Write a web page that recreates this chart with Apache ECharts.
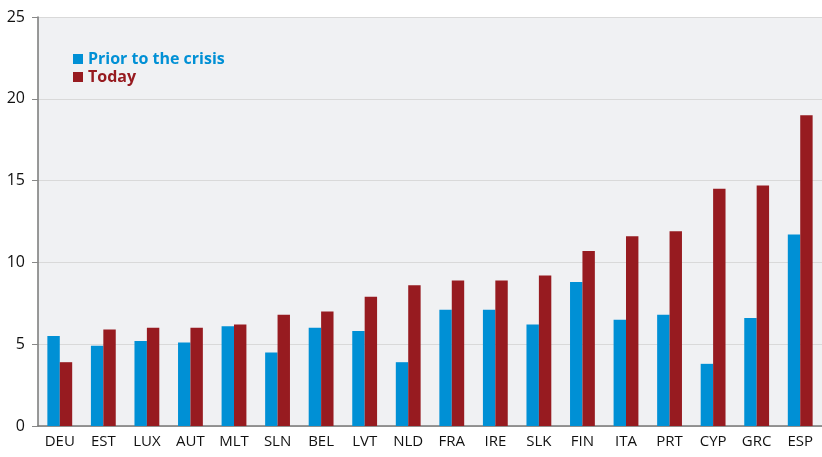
<!DOCTYPE html>
<html>
<head>
<meta charset="utf-8">
<style>
html, body { margin: 0; padding: 0; background: #fff; }
#chart { width: 822px; height: 457px; }
</style>
<script src="https://cdn.jsdelivr.net/npm/echarts@6/dist/echarts.min.js"></script>
</head>
<body>
<div id="chart"></div>
<script>
var countries = ['DEU', 'EST', 'LUX', 'AUT', 'MLT', 'SLN', 'BEL', 'LVT', 'NLD',
    'FRA', 'IRE', 'SLK', 'FIN', 'ITA', 'PRT', 'CYP', 'GRC', 'ESP'];
var priorToCrisis = [5.5, 4.9, 5.2, 5.1, 6.1, 4.5, 6.0, 5.8, 3.9,
    7.1, 7.1, 6.2, 8.8, 6.5, 6.8, 3.8, 6.6, 11.7];
var today = [3.9, 5.9, 6.0, 6.0, 6.2, 6.8, 7.0, 7.9, 8.6,
    8.9, 8.9, 9.2, 10.7, 11.6, 11.9, 14.5, 14.7, 19.0];

var blue = '#0090d5';
var red = '#971b20';
var font = '"Open Sans", Lato, sans-serif';

var chart = echarts.init(document.getElementById('chart'));
chart.setOption({
    animation: false,
    textStyle: { fontFamily: font },
    grid: {
        left: 38,
        top: 17,
        width: 792,
        height: 409,
        show: true,
        backgroundColor: '#f0f1f3',
        borderWidth: 0
    },
    legend: {
        orient: 'vertical',
        left: 68,
        top: 46,
        itemWidth: 10,
        itemHeight: 10,
        itemGap: 2,
        icon: 'rect',
        data: [
            { name: 'Prior to the crisis', textStyle: { color: blue } },
            { name: 'Today', textStyle: { color: red } }
        ],
        textStyle: { fontSize: 16, lineHeight: 16, fontWeight: 'bold', fontFamily: font, padding: [0, 0, 0, 0] }
    },
    xAxis: {
        type: 'category',
        data: countries,
        axisLine: { lineStyle: { color: '#777', width: 1.5 } },
        axisTick: { length: 6, lineStyle: { color: '#888' } },
        axisLabel: { color: '#111', fontSize: 15, margin: 8, interval: 0 }
    },
    yAxis: {
        type: 'value',
        min: 0,
        max: 25,
        interval: 5,
        axisLine: { show: true, lineStyle: { color: '#777', width: 1.5 } },
        axisTick: { show: true, length: 6, lineStyle: { color: '#888' } },
        axisLabel: { color: '#111', fontSize: 16, margin: 13 },
        splitLine: { lineStyle: { color: '#d9d9d9' } }
    },
    series: [{
        name: 'Prior to the crisis',
        type: 'bar',
        data: priorToCrisis,
        itemStyle: { color: blue },
        barGap: '0%',
        barCategoryGap: '43%'
    }, {
        name: 'Today',
        type: 'bar',
        data: today,
        itemStyle: { color: red }
    }]
});
</script>
</body>
</html>
